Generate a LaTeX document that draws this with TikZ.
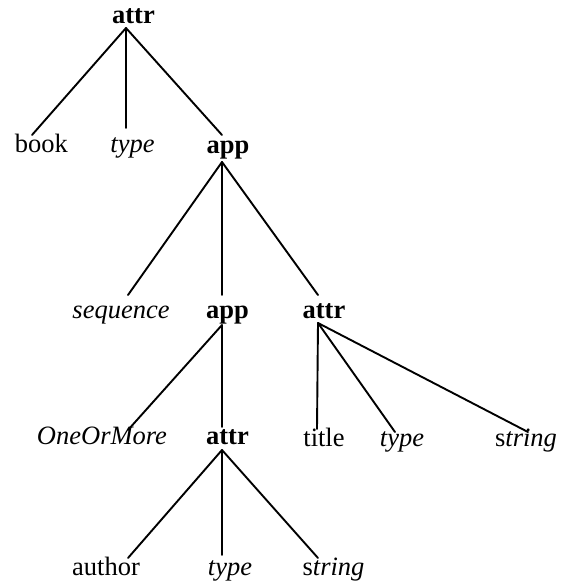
\documentclass[tikz,border=0pt]{standalone}
\usepackage{fontspec}
\setmainfont{Liberation Serif}
\begin{document}
\begin{tikzpicture}[x=1pt,y=-1pt,
  lbl/.style={anchor=base,inner sep=0pt,font=\fontsize{26.5}{30}\selectfont},
  kw/.style={lbl,font=\fontsize{26.5}{30}\selectfont\bfseries},
  ty/.style={lbl,font=\fontsize{26.5}{30}\selectfont\itshape},
  branch/.style={line width=1.9pt,line cap=round}]
\useasboundingbox (0,0) rectangle (568,587);

% labels of the tree
\node[kw]  (root)  at (133.5,23)  {attr};
\node[lbl] (book)  at (41.5,152)  {book};
\node[ty]  (typeA) at (132.5,152) {type};
\node[kw]  (appA)  at (228,153)   {app};
\node[ty]  (seq)   at (121,318)   {sequence};
\node[kw]  (appB)  at (227.5,318) {app};
\node[kw]  (attrB) at (324,318)   {attr};
\node[ty]  (oom)   at (102,444)   {OneOrMore};
\node[kw]  (attrC) at (227.5,444) {attr};
\node[lbl] (title) at (324,446)   {title};
\node[ty]  (typeB) at (402,446)   {type};
\node[lbl] (strB)  at (526,446)   {s\textit{tring}};
\node[lbl] (auth)  at (106,575)   {author};
\node[ty]  (typeC) at (230,575)   {type};
\node[lbl] (strC)  at (333.5,575) {s\textit{tring}};

% branch points below each parent and tops of each child
\coordinate (root-a)  at (126,28);
\coordinate (appA-a)  at (222,162);
\coordinate (appB-a)  at (222,325);
\coordinate (attrB-a) at (318,323);
\coordinate (attrC-a) at (222,450);

\coordinate (book-t)  at (32,135);
\coordinate (typeA-t) at (126,128);
\coordinate (appA-t)  at (222,135);
\coordinate (seq-t)   at (128,295);
\coordinate (appB-t)  at (222,295);
\coordinate (attrB-t) at (318,295);
\coordinate (oom-t)   at (128,430);
\coordinate (attrC-t) at (222,427);
\coordinate (title-t) at (317,429);
\coordinate (typeB-t) at (395,432);
\coordinate (strB-t)  at (528,432);
\coordinate (auth-t)  at (128,558);
\coordinate (typeC-t) at (222,555);
\coordinate (strC-t)  at (318,558);

% branches
\draw[branch] (root-a) -- (book-t);
\draw[branch] (root-a) -- (typeA-t);
\draw[branch] (root-a) -- (appA-t);
\draw[branch] (appA-a) -- (seq-t);
\draw[branch] (appA-a) -- (appB-t);
\draw[branch] (appA-a) -- (attrB-t);
\draw[branch] (appB-a) -- (oom-t);
\draw[branch] (appB-a) -- (attrC-t);
\draw[branch] (attrB-a) -- (title-t);
\draw[branch] (attrB-a) -- (typeB-t);
\draw[branch] (attrB-a) -- (strB-t);
\draw[branch] (attrC-a) -- (auth-t);
\draw[branch] (attrC-a) -- (typeC-t);
\draw[branch] (attrC-a) -- (strC-t);
\end{tikzpicture}
\end{document}
